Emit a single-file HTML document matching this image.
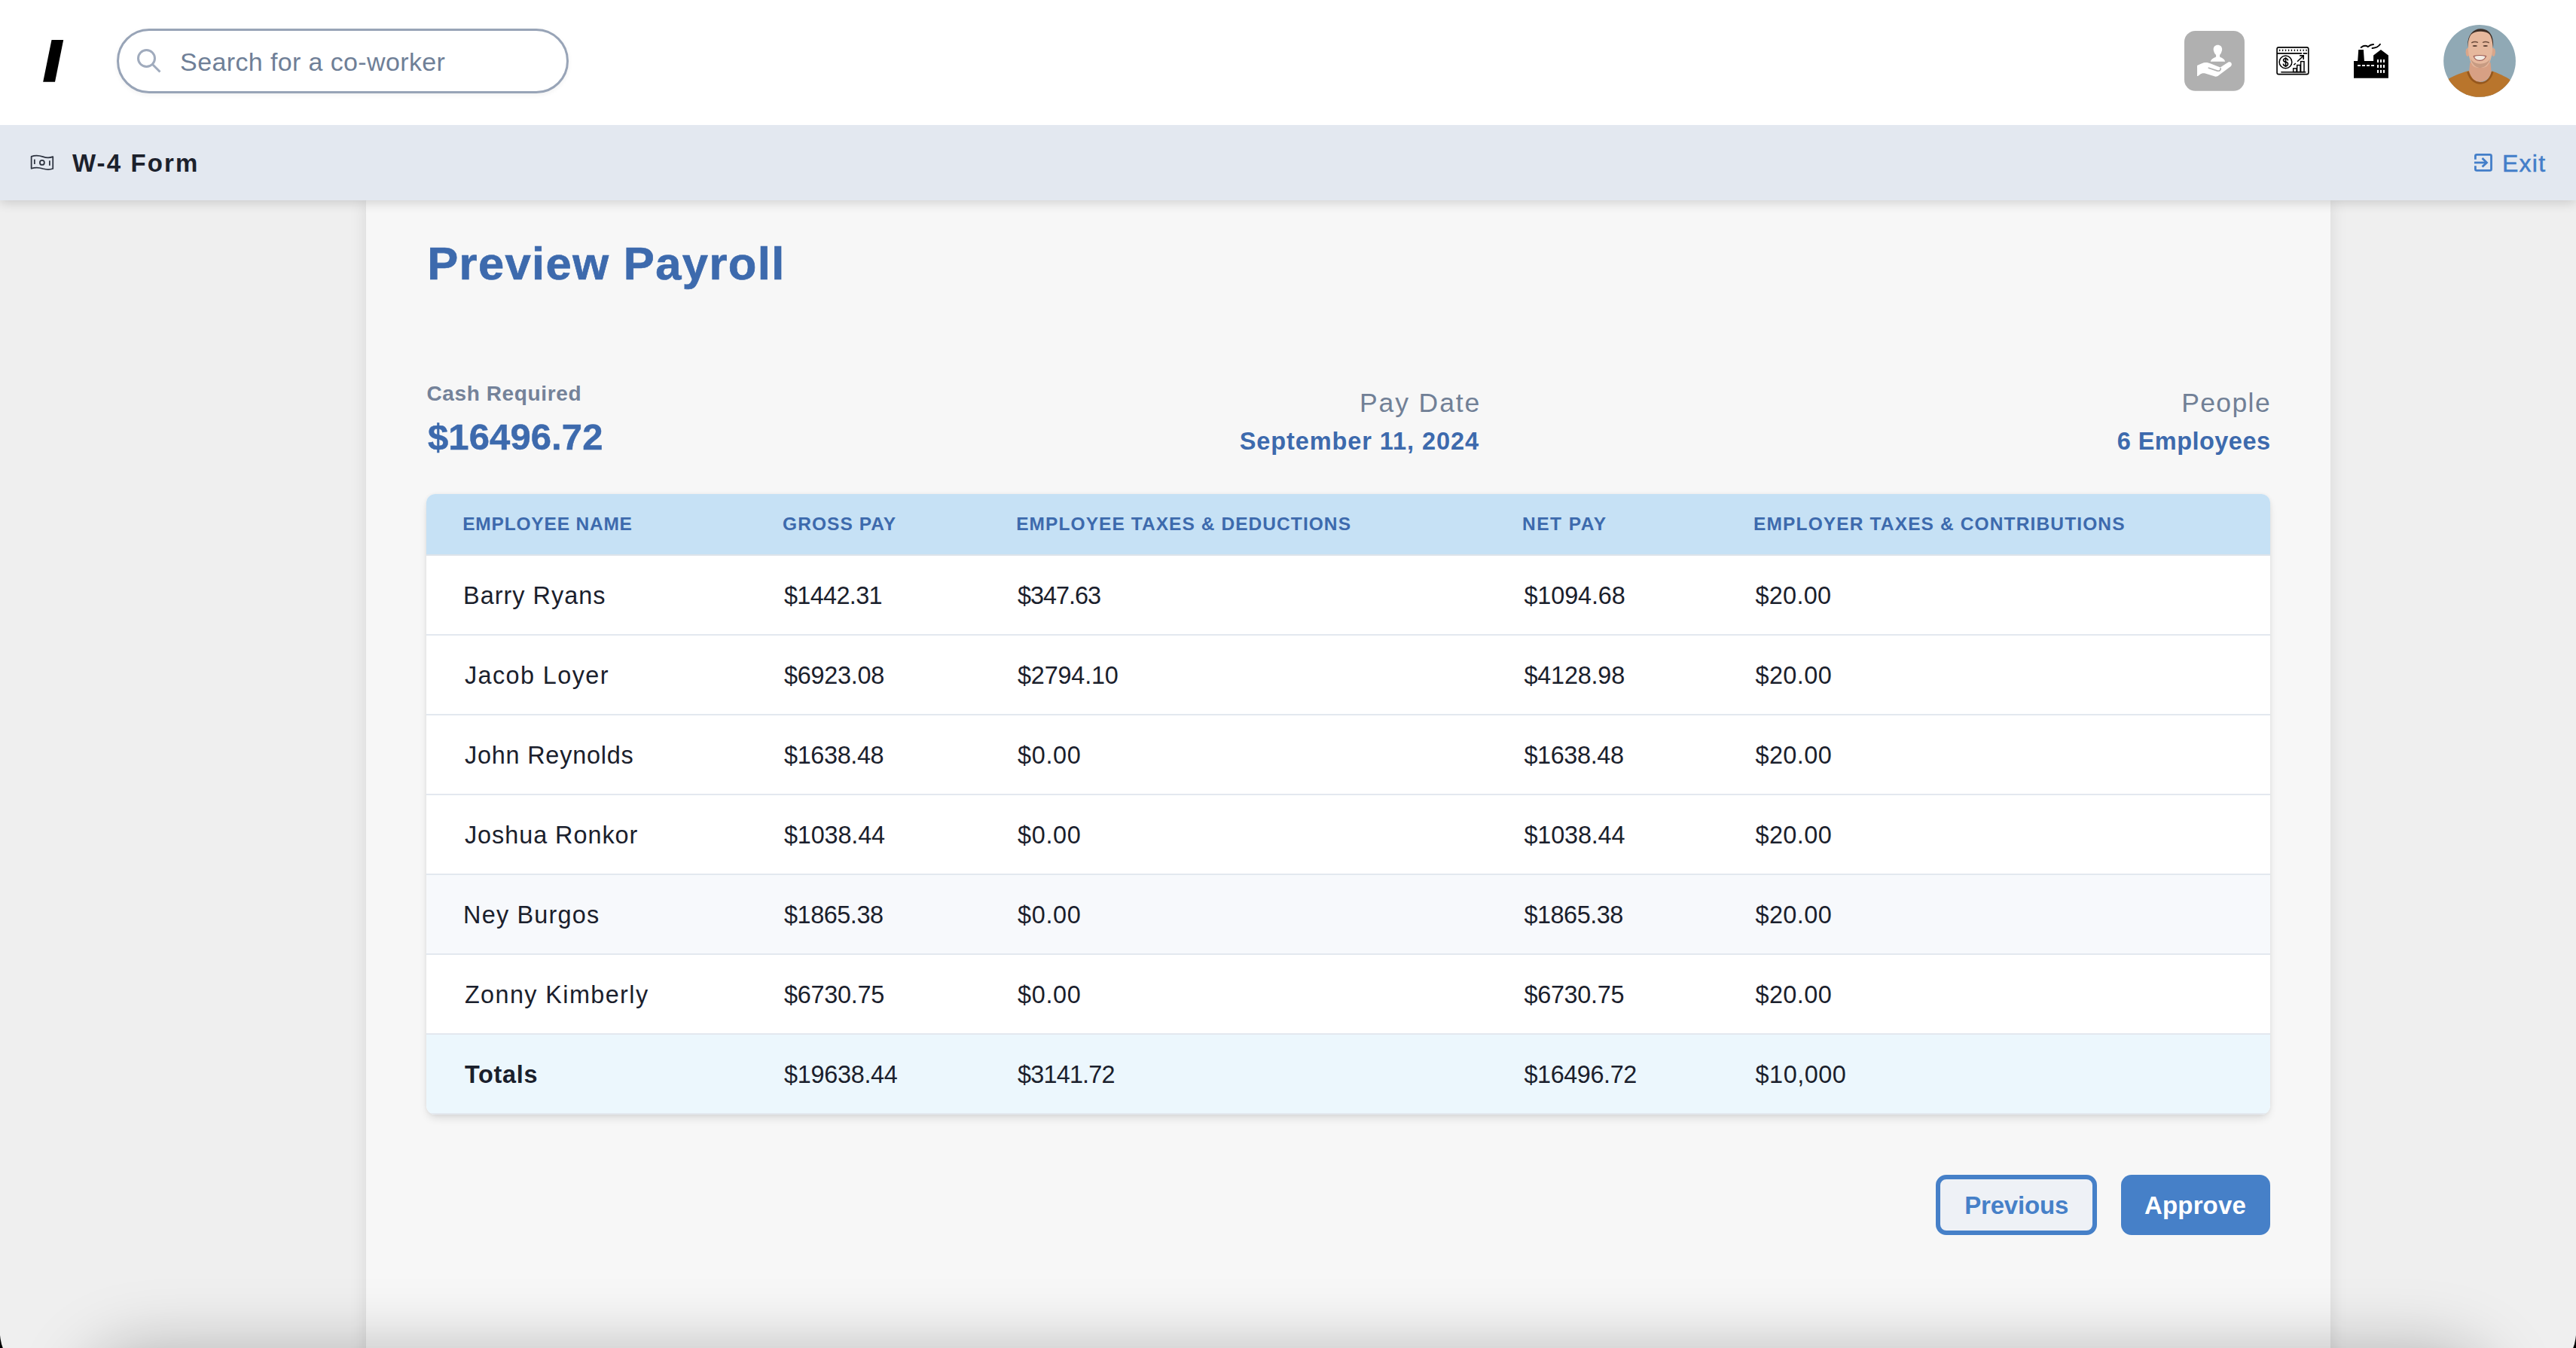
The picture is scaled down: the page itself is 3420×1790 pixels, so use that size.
<!DOCTYPE html>
<html><head><meta charset="utf-8"><title>Preview Payroll</title>
<style>
*{box-sizing:border-box;margin:0;padding:0}
html,body{width:3420px;height:1790px;overflow:hidden;background:#efefef;font-family:"Liberation Sans",sans-serif}
body{position:relative}
.a{position:absolute;white-space:nowrap;line-height:1}
svg.a{display:block}
#hdr{position:absolute;left:0;top:0;width:3420px;height:166px;background:#fff;z-index:3}
#sub{position:absolute;left:0;top:166px;width:3420px;height:100px;background:#e3e8f0;z-index:2;box-shadow:0 3px 14px rgba(0,0,0,.16)}
#panel{position:absolute;left:486px;top:266px;width:2608px;height:1600px;background:#f7f7f7;box-shadow:0 0 22px rgba(0,0,0,.10);z-index:1}
#search{position:absolute;left:155px;top:38px;width:600px;height:86px;border:3px solid #98a4b7;border-radius:43px;background:#fff;box-shadow:0 2px 6px rgba(0,0,0,.06)}
#tbl{position:absolute;left:566px;top:656px;width:2448px;height:824px;background:#fff;border-radius:12px;box-shadow:0 6px 12px -2px rgba(0,0,0,.13),0 0 5px rgba(0,0,0,.05);overflow:hidden;z-index:4}
.th{position:absolute;left:0;top:0;width:2448px;height:82px;background:#c6e1f5;border-bottom:2px solid #dde3ea}
.tr{position:absolute;left:0;width:2448px;height:106px;border-bottom:2px solid #e3e8ef;background:#fff}
.btn{position:absolute;top:1560px;height:80px;border-radius:14px;z-index:4}
#bshade{position:absolute;left:110px;top:1792px;width:3200px;height:300px;border-radius:80px;background:#ccc;box-shadow:0 0 90px 0 rgba(0,0,0,.26);z-index:20}
#corners{position:absolute;left:0;top:1740px;z-index:21}
</style>
<script>(function(){var w=window.innerWidth||3420;if(Math.abs(w-3420)>2){document.documentElement.style.zoom=(w/3420);}})();</script>
</head>
<body>
<div id="hdr">
  <svg class="a" style="left:0;top:0" width="120" height="166"><polygon points="68.5,53 84.2,53 73,108.8 57.2,108.8" fill="#000"/></svg>
  <div id="search"></div>
  <svg class="a" style="left:176px;top:60px" width="44" height="44" viewBox="0 0 44 44"><circle cx="18.5" cy="17.5" r="11" fill="none" stroke="#a0abbd" stroke-width="3"/><line x1="26.5" y1="25.5" x2="36.5" y2="35.5" stroke="#a0abbd" stroke-width="3"/></svg>
  <!-- gray user-hand tile -->
  <svg class="a" style="left:2895px;top:35px" width="90" height="90" viewBox="0 0 1348 1348">
    <rect x="75" y="88" width="1197" height="1197" rx="220" fill="#b0b0b0"/>
    <path d="M740,372 C792,372 826,408 826,458 C826,478 822,492 816,502 C808,535 792,556 780,566 L780,605 C835,630 882,655 885,702 L597,702 C600,655 650,630 705,605 L705,566 C690,556 672,535 664,502 C658,492 654,478 654,458 C654,408 688,372 740,372 Z" fill="#fff"/>
    <path d="M330,780 C400,750 450,720 500,720 C540,720 570,730 600,742 L790,815 L950,712 C985,695 1022,722 1016,760 C1012,785 1000,795 990,803 L760,975 C730,1000 700,1005 660,990 L490,935 C450,925 420,935 400,948 L345,990 L330,990 Z" fill="#fff"/>
    <path d="M560,827 L735,885 C770,895 800,870 796,838" fill="none" stroke="#b0b0b0" stroke-width="26" stroke-linecap="round"/>
  </svg>
  <!-- dollar chart icon -->
  <svg class="a" style="left:3015px;top:55px" width="60" height="50" viewBox="0 0 1618 1348">
    <g fill="none" stroke="#000" stroke-width="44">
      <rect x="217" y="212" width="1126" height="966" rx="60"/>
      <line x1="217" y1="428" x2="1105" y2="428"/>
      <line x1="1165" y1="428" x2="1282" y2="428" stroke-linecap="round"/>
      <circle cx="525" cy="740" r="225" stroke-width="40"/>
      <path d="M610,685 C605,615 530,600 490,615 C440,632 430,690 470,715 C500,735 560,740 585,760 C630,795 610,870 540,880 C490,888 445,860 440,800"/>
      <line x1="527" y1="568" x2="527" y2="915"/>
      <line x1="945" y1="722" x2="1150" y2="525"/>
      <polyline points="1028,510 1165,510 1165,648"/>
      <line x1="820" y1="842" x2="885" y2="782"/>
      <rect x="800" y="968" width="118" height="125" stroke-width="40"/>
      <rect x="935" y="850" width="118" height="243" stroke-width="40"/>
      <rect x="1068" y="718" width="118" height="375" stroke-width="40"/>
      <line x1="375" y1="1100" x2="1235" y2="1100" stroke-linecap="round"/>
    </g>
    <g fill="#000">
      <ellipse cx="315" cy="320" rx="20" ry="36"/><ellipse cx="422" cy="320" rx="20" ry="36"/><ellipse cx="528" cy="320" rx="20" ry="36"/><ellipse cx="635" cy="320" rx="20" ry="36"/><ellipse cx="740" cy="320" rx="20" ry="36"/><ellipse cx="847" cy="320" rx="20" ry="36"/><ellipse cx="952" cy="320" rx="20" ry="36"/><ellipse cx="1058" cy="320" rx="20" ry="36"/><ellipse cx="1163" cy="320" rx="20" ry="36"/><ellipse cx="1268" cy="320" rx="20" ry="36"/>
    </g>
  </svg>
  <!-- factory icon -->
  <svg class="a" style="left:3120px;top:52px" width="60" height="56" viewBox="0 0 1444 1348">
    <path d="M120,700 L245,700 L270,340 L430,340 L455,700 L748,700 L748,515 L985,340 L1225,515 L1225,1245 L120,1245 Z" fill="#000"/>
    <g fill="#fff">
      <rect x="240" y="820" width="95" height="46"/><rect x="385" y="820" width="95" height="46"/><rect x="530" y="820" width="95" height="46"/><rect x="675" y="820" width="95" height="46"/>
      <rect x="865" y="650" width="50" height="95"/><rect x="962" y="650" width="50" height="95"/><rect x="1057" y="650" width="50" height="95"/>
      <rect x="865" y="820" width="50" height="95"/><rect x="962" y="820" width="50" height="95"/><rect x="1057" y="820" width="50" height="95"/>
      <rect x="865" y="985" width="50" height="95"/><rect x="962" y="985" width="50" height="95"/><rect x="1057" y="985" width="50" height="95"/>
    </g>
    <g fill="none" stroke="#000" stroke-width="46" stroke-linecap="round">
      <path d="M352,265 C420,212 500,192 575,243 C625,200 700,168 748,170"/>
      <path d="M712,290 C800,282 900,252 962,162"/>
    </g>
  </svg>
  <!-- avatar -->
  <svg class="a" style="left:3240px;top:30px" width="105" height="102" viewBox="0 0 1388 1348">
    <defs><clipPath id="av"><circle cx="688" cy="673" r="633"/></clipPath></defs>
    <g clip-path="url(#av)">
      <rect x="0" y="0" width="1388" height="1348" fill="#90a9b5"/>
      <path d="M520,700 L880,700 L895,880 C850,1000 760,1040 690,1040 C600,1040 520,990 500,880 Z" fill="#d7a084"/>
      <path d="M130,995 C250,920 400,870 500,845 C540,990 620,1050 700,1050 C790,1050 870,990 900,850 C1000,880 1150,950 1230,1010 L1320,1348 L80,1348 Z" fill="#b9752c"/>
      <path d="M480,860 C520,1010 620,1060 700,1062 C790,1060 880,1000 915,862" fill="none" stroke="#96571c" stroke-width="34"/>
      <ellipse cx="478" cy="520" rx="34" ry="75" fill="#d9a68a"/>
      <ellipse cx="930" cy="520" rx="34" ry="75" fill="#d9a68a"/>
      <path d="M485,380 C485,200 580,125 705,125 C835,125 920,200 918,380 C915,560 885,690 820,760 C770,805 625,805 575,762 C515,700 485,560 485,380 Z" fill="#e6b89d"/>
      <path d="M520,600 C540,700 600,790 700,795 C800,790 860,700 880,600 C860,680 800,720 700,722 C600,720 545,680 520,600 Z" fill="#8b6450" opacity=".35"/>
      <path d="M478,440 C462,230 570,110 705,110 C845,110 945,210 925,445 C915,335 895,245 860,205 C820,165 760,152 705,154 C640,152 580,168 540,208 C505,248 485,335 478,440 Z" fill="#3e2f27"/>
      <ellipse cx="605" cy="410" rx="42" ry="14" fill="#5a3e32"/>
      <ellipse cx="790" cy="410" rx="42" ry="14" fill="#5a3e32"/>
      <path d="M545,355 C580,335 630,335 660,350" fill="none" stroke="#6b4a3a" stroke-width="18"/>
      <path d="M740,350 C770,335 820,335 855,355" fill="none" stroke="#6b4a3a" stroke-width="18"/>
      <path d="M585,590 C640,570 740,570 800,590 C780,650 720,665 690,665 C650,665 600,650 585,590 Z" fill="#f3ece4" stroke="#9c5a52" stroke-width="16"/>
    </g>
  </svg>
</div>
<div id="sub">
  <svg class="a" style="left:30px;top:24px" width="240" height="55" viewBox="0 0 2576 590">
    <g fill="none" stroke="#2d3340" stroke-width="19">
      <path d="M125,192 C180,172 240,178 290,195 C340,212 390,212 432,195 L432,365 C390,380 340,380 290,365 C240,348 180,342 125,362 Z" stroke-linejoin="round"/>
      <line x1="170" y1="232" x2="170" y2="300"/>
      <line x1="385" y1="250" x2="385" y2="320"/>
      <circle cx="278" cy="278" r="32"/>
    </g>
  </svg>
  <svg class="a" style="left:3278px;top:29px" width="112" height="45" viewBox="0 0 2576 1035">
    <g fill="none" stroke="#437ec9" stroke-width="64">
      <path d="M193,385 L193,282 Q193,238 237,238 L635,238 Q679,238 679,282 L679,678 Q679,722 635,722 L237,722 Q193,722 193,678 L193,580"/>
      <line x1="160" y1="482" x2="540" y2="482"/>
      <polyline points="403,345 540,482 403,612"/>
    </g>
  </svg>
</div>
<div id="panel"></div>
<div id="tbl">
  <div class="th"></div>
  <div class="tr" style="top:82px"></div>
  <div class="tr" style="top:188px"></div>
  <div class="tr" style="top:294px"></div>
  <div class="tr" style="top:400px"></div>
  <div class="tr" style="top:506px;background:#f7f9fc"></div>
  <div class="tr" style="top:612px"></div>
  <div class="tr" style="top:718px;background:#ecf7fd"></div>
</div>
<div class="btn" style="left:2570px;width:214px;border:6px solid #4680c8;background:#eef1f6"></div>
<div class="btn" style="left:2816px;width:198px;background:#4680c8"></div>
<div class="a" style="left:239.10px;top:64.72px;font-size:34px;color:#6f7f97;letter-spacing:0.376px;z-index:6;">Search for a co-worker</div>
<div class="a" style="left:96.00px;top:200.07px;font-size:33px;font-weight:700;color:#1c212c;letter-spacing:2.114px;z-index:6;">W-4 Form</div>
<div class="a" style="left:3321.96px;top:200.71px;font-size:32px;color:#437ec9;letter-spacing:1.267px;z-index:6;-webkit-text-stroke:0.5px #437ec9;">Exit</div>
<div class="a" style="left:567.20px;top:319.04px;font-size:61.5px;font-weight:700;color:#3d6aad;letter-spacing:1.386px;z-index:6;-webkit-text-stroke:0.7px #3d6aad;">Preview Payroll</div>
<div class="a" style="left:566.40px;top:509.30px;font-size:28px;font-weight:700;color:#748299;letter-spacing:0.625px;z-index:6;">Cash Required</div>
<div class="a" style="left:568.00px;top:556.02px;font-size:49px;font-weight:700;color:#3d6aad;letter-spacing:0.100px;z-index:6;-webkit-text-stroke:0.5px #3d6aad;">$16496.72</div>
<div class="a" style="left:1804.90px;top:517.95px;font-size:35.5px;color:#718096;letter-spacing:1.914px;z-index:6;">Pay Date</div>
<div class="a" style="left:1645.70px;top:570.49px;font-size:32.5px;font-weight:700;color:#3d6aad;letter-spacing:0.918px;z-index:6;">September 11, 2024</div>
<div class="a" style="left:2896.20px;top:517.95px;font-size:35.5px;color:#718096;letter-spacing:1.380px;z-index:6;">People</div>
<div class="a" style="left:2810.70px;top:570.49px;font-size:32.5px;font-weight:700;color:#3d6aad;letter-spacing:0.460px;z-index:6;">6 Employees</div>
<div class="a" style="left:614.20px;top:684.26px;font-size:24.5px;font-weight:700;color:#3d6aad;letter-spacing:0.808px;z-index:6;">EMPLOYEE NAME</div>
<div class="a" style="left:1039.10px;top:684.26px;font-size:24.5px;font-weight:700;color:#3d6aad;letter-spacing:1.053px;z-index:6;">GROSS PAY</div>
<div class="a" style="left:1349.20px;top:684.26px;font-size:24.5px;font-weight:700;color:#3d6aad;letter-spacing:1.065px;z-index:6;">EMPLOYEE TAXES &amp; DEDUCTIONS</div>
<div class="a" style="left:2021.10px;top:684.26px;font-size:24.5px;font-weight:700;color:#3d6aad;letter-spacing:1.467px;z-index:6;">NET PAY</div>
<div class="a" style="left:2328.10px;top:684.26px;font-size:24.5px;font-weight:700;color:#3d6aad;letter-spacing:1.131px;z-index:6;">EMPLOYER TAXES &amp; CONTRIBUTIONS</div>
<div class="a" style="left:615.10px;top:774.57px;font-size:32.4px;color:#1a202c;letter-spacing:1.010px;z-index:6;">Barry Ryans</div>
<div class="a" style="left:1041.00px;top:774.57px;font-size:32.4px;color:#1a202c;letter-spacing:-0.657px;z-index:6;">$1442.31</div>
<div class="a" style="left:1351.00px;top:774.57px;font-size:32.4px;color:#1a202c;letter-spacing:-1.017px;z-index:6;">$347.63</div>
<div class="a" style="left:2023.40px;top:774.57px;font-size:32.4px;color:#1a202c;letter-spacing:-0.100px;z-index:6;">$1094.68</div>
<div class="a" style="left:2330.50px;top:774.57px;font-size:32.4px;color:#1a202c;letter-spacing:0.280px;z-index:6;">$20.00</div>
<div class="a" style="left:616.90px;top:880.57px;font-size:32.4px;color:#1a202c;letter-spacing:1.410px;z-index:6;">Jacob Loyer</div>
<div class="a" style="left:1041.00px;top:880.57px;font-size:32.4px;color:#1a202c;letter-spacing:-0.271px;z-index:6;">$6923.08</div>
<div class="a" style="left:1351.00px;top:880.57px;font-size:32.4px;color:#1a202c;letter-spacing:-0.186px;z-index:6;">$2794.10</div>
<div class="a" style="left:2023.40px;top:880.57px;font-size:32.4px;color:#1a202c;letter-spacing:-0.186px;z-index:6;">$4128.98</div>
<div class="a" style="left:2330.50px;top:880.57px;font-size:32.4px;color:#1a202c;letter-spacing:0.420px;z-index:6;">$20.00</div>
<div class="a" style="left:616.90px;top:986.57px;font-size:32.4px;color:#1a202c;letter-spacing:0.800px;z-index:6;">John Reynolds</div>
<div class="a" style="left:1041.00px;top:986.57px;font-size:32.4px;color:#1a202c;letter-spacing:-0.357px;z-index:6;">$1638.48</div>
<div class="a" style="left:1351.00px;top:986.57px;font-size:32.4px;color:#1a202c;letter-spacing:0.687px;z-index:6;">$0.00</div>
<div class="a" style="left:2023.40px;top:986.57px;font-size:32.4px;color:#1a202c;letter-spacing:-0.357px;z-index:6;">$1638.48</div>
<div class="a" style="left:2330.50px;top:986.57px;font-size:32.4px;color:#1a202c;letter-spacing:0.420px;z-index:6;">$20.00</div>
<div class="a" style="left:616.90px;top:1092.57px;font-size:32.4px;color:#1a202c;letter-spacing:0.962px;z-index:6;">Joshua Ronkor</div>
<div class="a" style="left:1041.00px;top:1092.57px;font-size:32.4px;color:#1a202c;letter-spacing:-0.143px;z-index:6;">$1038.44</div>
<div class="a" style="left:1351.00px;top:1092.57px;font-size:32.4px;color:#1a202c;letter-spacing:0.687px;z-index:6;">$0.00</div>
<div class="a" style="left:2023.40px;top:1092.57px;font-size:32.4px;color:#1a202c;letter-spacing:-0.143px;z-index:6;">$1038.44</div>
<div class="a" style="left:2330.50px;top:1092.57px;font-size:32.4px;color:#1a202c;letter-spacing:0.420px;z-index:6;">$20.00</div>
<div class="a" style="left:615.10px;top:1198.57px;font-size:32.4px;color:#1a202c;letter-spacing:1.200px;z-index:6;">Ney Burgos</div>
<div class="a" style="left:1041.00px;top:1198.57px;font-size:32.4px;color:#1a202c;letter-spacing:-0.443px;z-index:6;">$1865.38</div>
<div class="a" style="left:1351.00px;top:1198.57px;font-size:32.4px;color:#1a202c;letter-spacing:0.687px;z-index:6;">$0.00</div>
<div class="a" style="left:2023.40px;top:1198.57px;font-size:32.4px;color:#1a202c;letter-spacing:-0.443px;z-index:6;">$1865.38</div>
<div class="a" style="left:2330.50px;top:1198.57px;font-size:32.4px;color:#1a202c;letter-spacing:0.420px;z-index:6;">$20.00</div>
<div class="a" style="left:616.90px;top:1304.57px;font-size:32.4px;color:#1a202c;letter-spacing:1.400px;z-index:6;">Zonny Kimberly</div>
<div class="a" style="left:1041.00px;top:1304.57px;font-size:32.4px;color:#1a202c;letter-spacing:-0.271px;z-index:6;">$6730.75</div>
<div class="a" style="left:1351.00px;top:1304.57px;font-size:32.4px;color:#1a202c;letter-spacing:0.687px;z-index:6;">$0.00</div>
<div class="a" style="left:2023.40px;top:1304.57px;font-size:32.4px;color:#1a202c;letter-spacing:-0.271px;z-index:6;">$6730.75</div>
<div class="a" style="left:2330.50px;top:1304.57px;font-size:32.4px;color:#1a202c;letter-spacing:0.420px;z-index:6;">$20.00</div>
<div class="a" style="left:616.90px;top:1410.57px;font-size:32.4px;font-weight:700;color:#1a202c;letter-spacing:0.710px;z-index:6;">Totals</div>
<div class="a" style="left:1041.00px;top:1410.57px;font-size:32.4px;color:#1a202c;letter-spacing:-0.281px;z-index:6;">$19638.44</div>
<div class="a" style="left:1351.00px;top:1410.57px;font-size:32.4px;color:#1a202c;letter-spacing:-0.793px;z-index:6;">$3141.72</div>
<div class="a" style="left:2023.40px;top:1410.57px;font-size:32.4px;color:#1a202c;letter-spacing:-0.394px;z-index:6;">$16496.72</div>
<div class="a" style="left:2330.50px;top:1410.57px;font-size:32.4px;color:#1a202c;letter-spacing:0.550px;z-index:6;">$10,000</div>
<div class="a" style="left:2608.20px;top:1584.07px;font-size:33px;font-weight:700;color:#4680c8;letter-spacing:-0.186px;z-index:6;">Previous</div>
<div class="a" style="left:2847.10px;top:1584.07px;font-size:33px;font-weight:700;color:#ffffff;letter-spacing:0.133px;z-index:6;">Approve</div>
<div id="bshade"></div>
<svg id="corners" width="3420" height="50" viewBox="0 1740 3420 50"><path d="M0,1773 Q1.2,1784 3.8,1790 L0,1790 Z" fill="#000"/><path d="M3420,1773 Q3418.8,1784 3416.2,1790 L3420,1790 Z" fill="#000"/></svg>
</body></html>
